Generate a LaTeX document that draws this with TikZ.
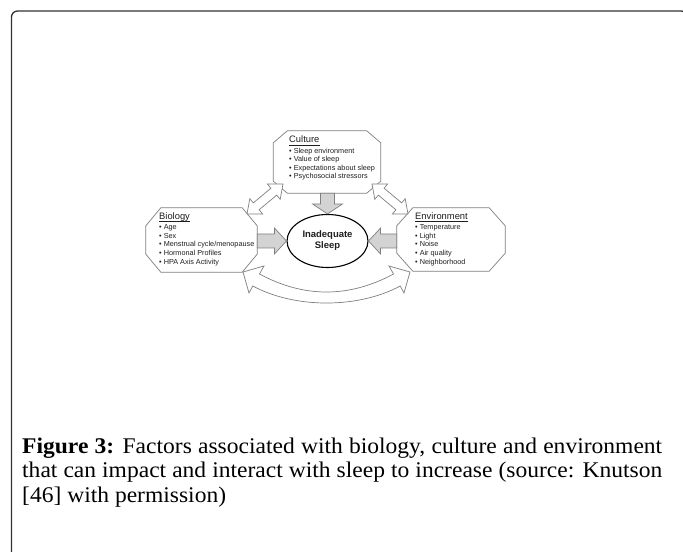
\documentclass[tikz,border=0pt]{standalone}
\usepackage{fontspec}
\setmainfont{Liberation Serif}[FakeStretch=1.05]
\setsansfont{Liberation Sans}
\usetikzlibrary{calc,shapes.geometric}
\definecolor{outlinegray}{HTML}{7F7F7F}
\definecolor{blockgray}{HTML}{D3D3D3}
\definecolor{framegray}{HTML}{333333}
\definecolor{inkgray}{HTML}{1E1E1E}
\tikzset{
  frame/.style={line width=1.3bp,draw=framegray,rounded corners=6bp},
  factor/.style={rectangle,inner sep=0},
  octagon/.style={draw=outlinegray,line width=0.7bp,fill=white},
  ttl/.style={font=\sffamily\fontsize{9.4}{11}\selectfont,text=inkgray,inner sep=0},
  uline/.style={draw=inkgray,line width=0.5bp},
  items/.style={font=\sffamily\fontsize{7.3}{8.6}\selectfont,text=inkgray,align=left,inner sep=0},
  outcome/.style={ellipse,draw=black,line width=1.1bp,fill=white,inner sep=0,minimum width=81bp,minimum height=53bp,
                  font=\sffamily\bfseries\fontsize{9.5}{11}\selectfont,align=center,text=inkgray},
  % the grey block arrows push a factor into the outcome
  block/.style={draw=outlinegray,fill=blockgray,line width=0.7bp},
  % the white arrows show the factors acting on one another
  hollow/.style={draw=outlinegray,fill=white,line width=0.7bp},
  caption/.style={font=\fontsize{22.5}{25}\selectfont,text width=640bp,align=justify,inner sep=0},
}
\begin{document}
\begin{tikzpicture}[x=1bp,y=-1bp]
  \useasboundingbox (0,0) rectangle (683,552);
  \clip (0,0) rectangle (683,552);
  \draw[frame] (11.5,600) |- (687,11) -- (687,600);

  % the three groups of factors and the outcome in the middle
  \node[factor,minimum width=107bp,minimum height=62bp] (cult) at (327,162) {};
  \node[factor,minimum width=111bp,minimum height=64bp] (bio) at (201.5,240) {};
  \node[factor,minimum width=108bp,minimum height=63bp] (env) at (451,239.5) {};
  \foreach \n/\cx/\cy in {cult/14bp/12bp,bio/15bp/18bp,env/16bp/18bp}
    \draw[octagon] ([xshift=\cx]\n.north west) -- ([xshift=-\cx]\n.north east) -- ([yshift=-\cy]\n.north east)
      -- ([yshift=\cy]\n.south east) -- ([xshift=-\cx]\n.south east) -- ([xshift=\cx]\n.south west)
      -- ([yshift=\cy]\n.south west) -- ([yshift=-\cy]\n.north west) -- cycle;
  \node[outcome] (sleep) at (327.5,241) {Inadequate\\Sleep};

  \node[ttl,anchor=base west] (culttl) at (289,143) {Culture};
  \node[items,anchor=north west] (cultlst) at (289,147.6)
    {• Sleep environment\\• Value of sleep\\• Expectations about sleep\\• Psychosocial stressors};
  \node[ttl,anchor=base west] (biottl) at (159,219.8) {Biology};
  \node[items,anchor=north west] (biolst) at (159,224.6)
    {• Age\\• Sex\\• Menstrual cycle/menopause\\• Hormonal Profiles\\• HPA Axis Activity};
  \node[ttl,anchor=base west] (envttl) at (415,219.8) {Environment};
  \node[items,anchor=north west] (envlst) at (415,224.6)
    {• Temperature\\• Light\\• Noise\\• Air quality\\• Neighborhood};
  \foreach \t in {culttl,biottl,envttl}
    \draw[uline] ([yshift=-1.8bp]\t.base west) -- ([yshift=-1.8bp]\t.base east);

  % block arrows into the outcome
  \draw[block] ($(cult.south -| sleep.north)+(-7,0)$) -- ($(sleep.north)+(-7,-10)$) -- ($(sleep.north)+(-15,-10)$)
    -- (sleep.north) -- ($(sleep.north)+(15,-10)$) -- ($(sleep.north)+(7,-10)$) -- ($(cult.south -| sleep.north)+(7,0)$) -- cycle;
  \draw[block] ($(bio.east |- sleep.west)+(0,-7)$) -- ($(sleep.west)+(-12,-7)$) -- ($(sleep.west)+(-12,-13)$)
    -- (sleep.west) -- ($(sleep.west)+(-12,13)$) -- ($(sleep.west)+(-12,7)$) -- ($(bio.east |- sleep.west)+(0,7)$) -- cycle;
  \draw[block] ($(env.west |- sleep.east)+(0,-7)$) -- ($(sleep.east)+(12,-7)$) -- ($(sleep.east)+(12,-13)$)
    -- (sleep.east) -- ($(sleep.east)+(12,13)$) -- ($(sleep.east)+(12,7)$) -- ($(env.west |- sleep.east)+(0,7)$) -- cycle;

  % ends of the white two-way arrows
  \coordinate (bioNE) at (247,214);
  \coordinate (cultSW) at (283,184);
  \coordinate (cultSE) at (372,184);
  \coordinate (envNW) at (408,214);
  \coordinate (bioSE) at (243,272);
  \coordinate (envSW) at (410,272);

  \foreach \a/\b in {bioNE/cultSW,cultSE/envNW}
    \draw[hollow] let \p1=($(\b)-(\a)$), \n1={atan2(\y1,\x1)} in
      (\a) -- ($(\a)+(\n1:12bp)+(\n1+90:10bp)$) -- ($(\a)+(\n1:12bp)+(\n1+90:4.5bp)$)
      -- ($(\b)+(\n1+180:12bp)+(\n1+90:4.5bp)$) -- ($(\b)+(\n1+180:12bp)+(\n1+90:10bp)$) -- (\b)
      -- ($(\b)+(\n1+180:12bp)+(\n1-90:10bp)$) -- ($(\b)+(\n1+180:12bp)+(\n1-90:4.5bp)$)
      -- ($(\a)+(\n1:12bp)+(\n1-90:4.5bp)$) -- ($(\a)+(\n1:12bp)+(\n1-90:10bp)$) -- cycle;

  % the curved arrow below, between biology and environment
  \draw[hollow] (bioSE) -- ($(bioSE)+(21,-6)$) -- ($(bioSE)+(16.5,2)$)
    .. controls ($(bioSE)+(61,26)$) and ($(envSW)+(-61,26)$) .. ($(envSW)+(-16.5,2)$)
    -- ($(envSW)+(-21,-6)$) -- (envSW) -- ($(envSW)+(-6,21)$) -- ($(envSW)+(-9.8,14)$)
    .. controls ($(envSW)+(-52,36.7)$) and ($(bioSE)+(52,36.7)$) .. ($(bioSE)+(9.8,14)$)
    -- ($(bioSE)+(6,21)$) -- cycle;

  \node[caption,anchor=base west] (cap) at (22,453)
    {\textbf{Figure 3:} Factors associated with biology, culture and environment\linebreak{}
     that can impact and interact with sleep to increase (source: Knutson\linebreak{}
     [46] with permission)};
\end{tikzpicture}
\end{document}
